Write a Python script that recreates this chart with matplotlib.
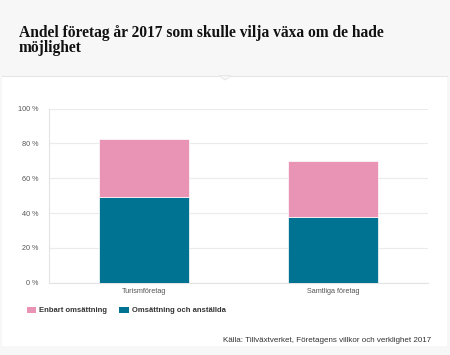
import matplotlib.pyplot as plt
from matplotlib.patches import Rectangle, Polygon

categories = ["Turismföretag", "Samtliga företag"]
omsattning_anstallda = [49, 38]
enbart_omsattning = [33.5, 32]
yticks = [0, 20, 40, 60, 80, 100]
series_names = ["Enbart omsättning", "Omsättning och anställda"]

pink = "#e993b5"
teal = "#007393"
W, H = 450, 355

fig = plt.figure(figsize=(W / 100, H / 100), dpi=100)
fig.patch.set_facecolor("#f7f7f7")

# white card under the header
def px(x0, y0, x1, y1):
    return (x0 / W, 1 - y1 / H), (x1 - x0) / W, (y1 - y0) / H

xy, w, h = px(2, 76, 447, 346)
fig.add_artist(Rectangle(xy, w, h, transform=fig.transFigure, facecolor="white",
                         edgecolor="none", zorder=0))
fig.add_artist(plt.Line2D([2 / W, 447 / W], [1 - 76 / H] * 2, transform=fig.transFigure,
                          color="#e6e6e6", lw=0.8, zorder=1))
fig.add_artist(Polygon([(219 / W, 1 - 75.6 / H), (231 / W, 1 - 75.6 / H), (225 / W, 1 - 80 / H)],
                       closed=True, transform=fig.transFigure, facecolor="#f7f7f7",
                       edgecolor="#e6e6e6", lw=0.6, zorder=2))

fig.text(19 / W, 1 - 52.5 / H, "Andel företag år 2017 som skulle vilja växa om de hade\nmöjlighet",
         family="Liberation Serif", weight="bold", fontsize=11.2, color="#111111",
         va="baseline", linespacing=0.95)

ax = fig.add_axes([49.3 / W, 72.3 / H, 378.4 / W, 174.2 / H])
ax.set_facecolor("none")
x = range(len(categories))
ax.bar(x, omsattning_anstallda, width=0.476, color=teal, edgecolor="white", lw=0.5, zorder=3)
ax.bar(x, enbart_omsattning, bottom=omsattning_anstallda, width=0.476, color=pink,
       edgecolor="white", lw=0.5, zorder=3)
ax.set_xlim(-0.5, 1.5)
ax.set_ylim(0, 100)
ax.set_yticks(yticks)
ax.set_yticklabels([f"{v} %" for v in yticks])
ax.set_xticks(list(x))
ax.set_xticklabels(categories)
ax.grid(axis="y", color="#ebebeb", lw=0.8, zorder=0)
for s in ["top", "right"]:
    ax.spines[s].set_visible(False)
for s in ["left", "bottom"]:
    ax.spines[s].set_color("#e3e3e3")
    ax.spines[s].set_linewidth(0.8)
ax.tick_params(axis="both", length=0, colors="#555555", labelsize=5.2)
ax.tick_params(axis="y", pad=8)
ax.tick_params(axis="x", pad=4)
for t in ax.get_xticklabels() + ax.get_yticklabels():
    t.set_family("Liberation Sans")

# legend
for (x0, x1, tx), name, col in zip([(26.7, 36, 39), (119.3, 129, 132)], series_names, [pink, teal]):
    xy, w, h = px(x0, 306.7, x1, 313.3)
    fig.add_artist(Rectangle(xy, w, h, transform=fig.transFigure, facecolor=col,
                             edgecolor="none"))
    fig.text(tx / W, 1 - 310.3 / H, name, family="Liberation Sans", weight="bold",
             fontsize=5.5, color="#333333", va="center")

fig.text(430.7 / W, 1 - 340.3 / H,
         "Källa: Tillväxtverket, Företagens villkor och verklighet 2017",
         family="Liberation Sans", fontsize=5.8, color="#333333", ha="right", va="center")

fig.savefig("out.png", dpi=100, facecolor=fig.get_facecolor())
